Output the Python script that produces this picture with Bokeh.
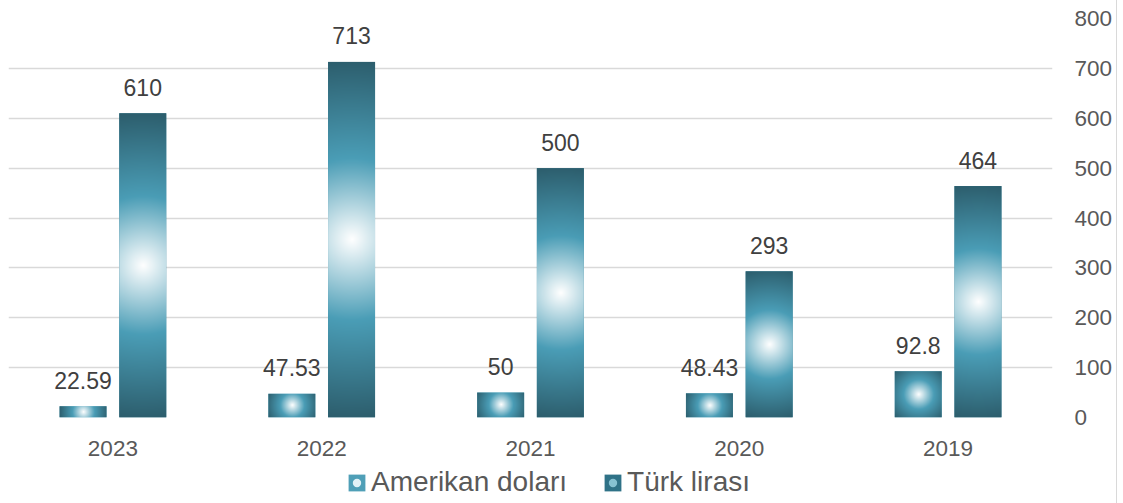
import numpy as np
from bokeh.plotting import figure
from bokeh.models import Range1d, FixedTicker, Legend, LegendItem, ColumnDataSource, Div
from bokeh.layouts import row, column
from bokeh.core.properties import value
from bokeh.embed import file_html
from bokeh.resources import INLINE

# ---- data ----
years = ["2023", "2022", "2021", "2020", "2019"]
usd = [22.59, 47.53, 50, 48.43, 92.8]
tl = [610, 713, 500, 293, 464]
series_names = ["Amerikan doları", "Türk lirası"]
y_ticks = [0, 100, 200, 300, 400, 500, 600, 700, 800]

# ---- layout constants ----
W = 1116
MB_L, MB_R, MB_T, MB_B = 8, 64, 18, 48
FRAME_W = 1044
FRAME_H = 399
H = MB_T + FRAME_H + MB_B
LEG_H = 503 - H
Y_MAX = 800
N = len(years)
BAR_W = 0.225
OFF = 0.143

WHITE = np.array([255, 255, 255], float)
MID = np.array([0x4a, 0x9d, 0xb6], float)
DARK = np.array([0x2c, 0x5d, 0x6c], float)
STOP = 0.45


def gradient_image(w_px, h_px):
    w_px = max(int(round(w_px)), 1)
    h_px = max(int(round(h_px)), 1)
    yy, xx = np.mgrid[0:h_px, 0:w_px]
    cx, cy = (w_px - 1) / 2.0, (h_px - 1) / 2.0
    R = np.hypot(w_px / 2.0, h_px / 2.0)
    t = np.clip(np.hypot(xx - cx, yy - cy) / R, 0, 1)[..., None]
    a = np.clip(t / STOP, 0, 1)
    b = np.clip((t - STOP) / (1 - STOP), 0, 1)
    col = np.where(t <= STOP, WHITE + (MID - WHITE) * a, MID + (DARK - MID) * b)
    rgba = np.empty((h_px, w_px, 4), dtype=np.uint8)
    rgba[..., :3] = np.round(col).astype(np.uint8)
    rgba[..., 3] = 255
    return rgba.view(np.uint32).reshape(h_px, w_px)


px_per_x = FRAME_W / N
px_per_y = FRAME_H / Y_MAX

centers = [i + 0.5 for i in range(N)]
x_usd = [c - OFF for c in centers]
x_tl = [c + OFF for c in centers]

p = figure(width=W, height=H, x_range=Range1d(0, N), y_range=Range1d(0, Y_MAX),
           output_backend="svg", toolbar_location=None, y_axis_location="right",
           min_border_left=MB_L, min_border_right=MB_R, min_border_top=MB_T,
           min_border_bottom=MB_B, outline_line_color=None,
           background_fill_color="white", border_fill_color="white")

# base bars
r_usd = p.vbar(x=x_usd, top=usd, width=BAR_W, fill_color="#6db5c9", line_color=None)
r_tl = p.vbar(x=x_tl, top=tl, width=BAR_W, fill_color="#3a8299", line_color=None)

# gradient fill of the bars
imgs, xs, ys, dws, dhs = [], [], [], [], []
for xv, v in list(zip(x_usd, usd)) + list(zip(x_tl, tl)):
    imgs.append(gradient_image(BAR_W * px_per_x, v * px_per_y))
    xs.append(xv - BAR_W / 2)
    ys.append(0)
    dws.append(BAR_W)
    dhs.append(v)
p.image_rgba(image=imgs, x=xs, y=ys, dw=dws, dh=dhs)

# data labels
lab_src = ColumnDataSource(dict(
    x=x_usd + x_tl, y=usd + tl,
    t=[f"{v:g}" for v in usd] + [f"{v:g}" for v in tl]))
p.text(x="x", y="y", text="t", source=lab_src, text_align="center",
       text_baseline="alphabetic", y_offset=-26,
       text_font=value("Liberation Sans"), text_font_size="23px",
       text_color="#404040")

# axes
p.yaxis.ticker = FixedTicker(ticks=y_ticks)
p.yaxis.axis_line_color = None
p.yaxis.major_tick_line_color = None
p.yaxis.minor_tick_line_color = None
p.yaxis.major_tick_out = 0
p.yaxis.major_tick_in = 0
p.yaxis.major_label_standoff = 22
p.yaxis.major_label_text_font = "Liberation Sans"
p.yaxis.major_label_text_font_size = "22.5px"
p.yaxis.major_label_text_color = "#595959"

p.xaxis.ticker = FixedTicker(ticks=centers)
p.xaxis.major_label_overrides = {c: y for c, y in zip(centers, years)}
p.xaxis.axis_line_color = None
p.xaxis.major_tick_line_color = None
p.xaxis.minor_tick_line_color = None
p.xaxis.major_tick_out = 0
p.xaxis.major_tick_in = 0
p.xaxis.major_label_standoff = 23
p.xaxis.major_label_text_font = "Liberation Sans"
p.xaxis.major_label_text_font_size = "22.5px"
p.xaxis.major_label_text_color = "#595959"

p.xgrid.visible = False
p.ygrid.grid_line_color = "#d9d9d9"
p.ygrid.grid_line_width = 1.5

# ---- legend strip (separate small figure; icon renderers sit outside its range) ----
lf = figure(width=W, height=LEG_H, x_range=Range1d(0, 1), y_range=Range1d(0, 1),
            output_backend="svg", toolbar_location=None, min_border=0,
            x_axis_type=None, y_axis_type=None, outline_line_color=None,
            background_fill_color="white", border_fill_color="white")
lf.xgrid.visible = False
lf.ygrid.visible = False
off_src = ColumnDataSource(dict(x=[-10.0], top=[-10.0]))
li_usd = lf.vbar(x="x", top="top", width=0.1, source=off_src,
                 fill_color="#4f9fb7", line_color=None)
ld_usd = lf.scatter(x="x", y="top", source=off_src, marker="circle", size=8,
                    fill_color="#eaf6f9", fill_alpha=0.95, line_color=None)
li_tl = lf.vbar(x="x", top="top", width=0.1, source=off_src,
                fill_color="#2f7287", line_color=None)
ld_tl = lf.scatter(x="x", y="top", source=off_src, marker="circle", size=8,
                   fill_color="#8cc6d6", fill_alpha=0.95, line_color=None)

legend = Legend(items=[
    LegendItem(label=series_names[0], renderers=[li_usd, ld_usd]),
    LegendItem(label=series_names[1], renderers=[li_tl, ld_tl]),
], orientation="horizontal", location=(338, LEG_H - 33),
    label_text_font="Liberation Sans", label_text_font_size="28px",
    label_text_color="#595959", glyph_width=21, glyph_height=21,
    label_standoff=4, spacing=35, padding=0, margin=0,
    border_line_color=None, background_fill_alpha=0)
lf.add_layout(legend, "center")

edge = Div(width=1, height=503, margin=0, styles={"background-color": "#d9d9d9"})
layout = row(column(p, lf), edge)

open("out.html", "w").write(file_html(layout, INLINE))
